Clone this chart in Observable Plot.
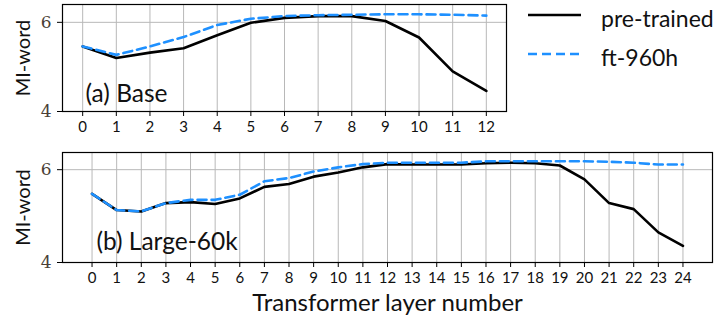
<!DOCTYPE html>
<html>
<head>
<meta charset="utf-8">
<script src="https://cdn.jsdelivr.net/npm/d3@7"></script>
<script src="https://cdn.jsdelivr.net/npm/@observablehq/plot@0.6"></script>
<style>
  body { margin: 0; background: #fff; }
  #wrap { position: relative; width: 715px; height: 324px; overflow: hidden; }
  .panel { position: absolute; left: 0; }
  #legend { position: absolute; left: 0; top: 0; }
</style>
</head>
<body>
<div id="wrap"></div>
<script>
// Mutual information with words (MI-word) per transformer layer
const seriesNames = ["pre-trained", "ft-960h"];
const seriesColors = ["#000000", "#1e90ff"];

// (a) Base model, layers 0-12
const baseLayers = [0, 1, 2, 3, 4, 5, 6, 7, 8, 9, 10, 11, 12];
const basePretrained = [5.46, 5.20, 5.32, 5.42, 5.71, 5.99, 6.10, 6.14, 6.14, 6.03, 5.66, 4.90, 4.46];
const baseFinetuned  = [5.46, 5.27, 5.46, 5.67, 5.94, 6.08, 6.14, 6.16, 6.17, 6.18, 6.18, 6.17, 6.15];

// (b) Large-60k model, layers 0-24
const largeLayers = [0, 1, 2, 3, 4, 5, 6, 7, 8, 9, 10, 11, 12, 13, 14, 15, 16, 17, 18, 19, 20, 21, 22, 23, 24];
const largePretrained = [5.48, 5.13, 5.10, 5.28, 5.30, 5.26, 5.38, 5.63, 5.69, 5.85, 5.94, 6.05, 6.12, 6.11, 6.11, 6.11, 6.14, 6.15, 6.14, 6.09, 5.79, 5.28, 5.15, 4.65, 4.36];
const largeFinetuned  = [5.48, 5.13, 5.10, 5.28, 5.35, 5.35, 5.46, 5.75, 5.82, 5.96, 6.05, 6.12, 6.15, 6.15, 6.15, 6.15, 6.18, 6.18, 6.18, 6.18, 6.18, 6.17, 6.15, 6.11, 6.11];

const yTicks = [4, 6];
const yLabel = "MI-word";
const xLabel = "Transformer layer number";

const sans = "Lato, 'Open Sans', 'DejaVu Sans', sans-serif";
const serif = "'DejaVu Serif', 'Liberation Serif', serif";

function rows(layers, pre, ft) {
  return [
    ...layers.map((layer, i) => ({layer, value: pre[i], series: seriesNames[0]})),
    ...layers.map((layer, i) => ({layer, value: ft[i], series: seriesNames[1]}))
  ];
}

function panel(o) {
  const data = rows(o.layers, o.pre, o.ft);
  const marks = [
    Plot.gridX(o.layers, {stroke: "#b8b8b8", strokeOpacity: 1, strokeWidth: 1}),
    Plot.gridY([6], {stroke: "#b8b8b8", strokeOpacity: 1, strokeWidth: 1}),
    Plot.axisX(o.layers, {tickSize: 5, tickPadding: 5, fontSize: 15, fontFamily: sans, label: null, stroke: "#000", fill: "#111"}),
    Plot.axisY(yTicks, {tickSize: 5, tickPadding: 6, fontSize: 17, fontFamily: serif, label: null, stroke: "#000", fill: "#4a3f36"}),
    Plot.lineY(data.filter(d => d.series === seriesNames[0]), {x: "layer", y: "value", stroke: seriesColors[0], strokeWidth: 2.6}),
    Plot.lineY(data.filter(d => d.series === seriesNames[1]), {x: "layer", y: "value", stroke: seriesColors[1], strokeWidth: 2.6, strokeDasharray: "9,5"}),
    Plot.frame({stroke: "#000", strokeWidth: 1.2}),
    Plot.text([o.tag], {frameAnchor: "bottom-left", textAnchor: "start", lineAnchor: "middle", dx: o.tagDx, dy: o.tagDy, fontSize: 24.5, fontFamily: sans, fill: "#111"}),
    Plot.text([yLabel], {frameAnchor: "left", textAnchor: "middle", lineAnchor: "middle", rotate: -90, dx: -39, fontSize: 20, fontFamily: sans, fill: "#111"})
  ];
  if (o.xTitle) marks.push(Plot.text([o.xTitle], {frameAnchor: "bottom", textAnchor: "middle", dy: 48, fontSize: 24, fontFamily: sans, fill: "#111"}));
  return Plot.plot({
    width: 715,
    height: o.height,
    marginLeft: 62,
    marginRight: o.marginRight,
    marginTop: o.marginTop,
    marginBottom: o.marginBottom,
    style: {overflow: "visible", background: "transparent", fontFamily: sans},
    x: {domain: o.xDomain, axis: null},
    y: {domain: o.yDomain, axis: null},
    marks
  });
}

const wrap = document.getElementById("wrap");

const basePanel = panel({
  layers: baseLayers, pre: basePretrained, ft: baseFinetuned,
  xDomain: [-0.6, 12.6], yDomain: [4, 6.4],
  height: 140, marginTop: 4, marginBottom: 29, marginRight: 209,
  tag: "(a) Base", tagDx: 23, tagDy: -17
});
basePanel.classList.add("panel");
basePanel.style.top = "0px";
wrap.appendChild(basePanel);

const largePanel = panel({
  layers: largeLayers, pre: largePretrained, ft: largeFinetuned,
  xDomain: [-1.2, 25.2], yDomain: [4, 6.37],
  height: 184, marginTop: 12, marginBottom: 62, marginRight: 3,
  tag: "(b) Large-60k", tagDx: 34, tagDy: -20, xTitle: xLabel
});
largePanel.classList.add("panel");
largePanel.style.top = "140px";
wrap.appendChild(largePanel);

// Legend: line swatches with series names
const ns = "http://www.w3.org/2000/svg";
const leg = document.createElementNS(ns, "svg");
leg.setAttribute("id", "legend");
leg.setAttribute("width", 715);
leg.setAttribute("height", 80);
seriesNames.forEach((name, i) => {
  const y = 15 + i * 39;
  const line = document.createElementNS(ns, "line");
  line.setAttribute("x1", 528); line.setAttribute("x2", 581);
  line.setAttribute("y1", y); line.setAttribute("y2", y);
  line.setAttribute("stroke", seriesColors[i]);
  line.setAttribute("stroke-width", 2.6);
  if (i === 1) line.setAttribute("stroke-dasharray", "9,5");
  leg.appendChild(line);
  const t = document.createElementNS(ns, "text");
  t.setAttribute("x", 601); t.setAttribute("y", y + 12);
  t.setAttribute("font-family", sans);
  t.setAttribute("font-size", 23);
  t.setAttribute("fill", "#111");
  t.textContent = name;
  leg.appendChild(t);
});
wrap.appendChild(leg);
</script>
</body>
</html>
